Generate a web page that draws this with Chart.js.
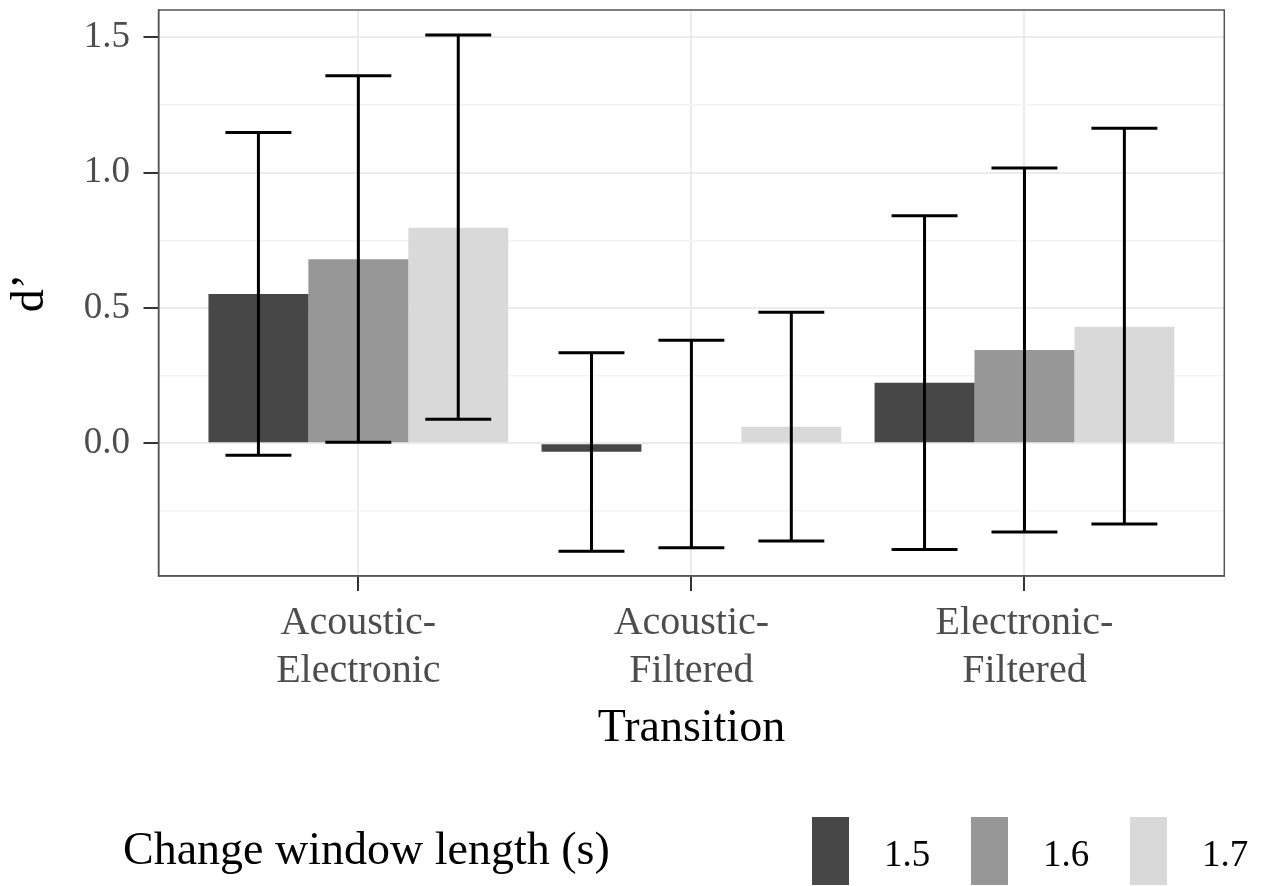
<!DOCTYPE html>
<html>
<head>
<meta charset="utf-8">
<script src="https://cdn.jsdelivr.net/npm/chart.js@4.4.1/dist/chart.umd.min.js"></script>
<style>
  html, body { margin: 0; padding: 0; background: #ffffff; }
  #wrap { width: 1264px; height: 886px; }
</style>
</head>
<body>
<div id="wrap"><canvas id="c" width="1264" height="886"></canvas></div>
<script>
// ---------- data ----------
const categories = [["Acoustic-", "Electronic"], ["Acoustic-", "Filtered"], ["Electronic-", "Filtered"]];
const categoryPositions = [1, 2, 3];
const windowLengths = ["1.5", "1.6", "1.7"];
const mean15 = [0.552, -0.031, 0.224];
const mean16 = [0.680, 0.000, 0.345];
const mean17 = [0.797, 0.061, 0.431];
const lower15 = [-0.044, -0.399, -0.392];
const upper15 = [1.148, 0.335, 0.841];
const lower16 = [0.004, -0.386, -0.327];
const upper16 = [1.358, 0.381, 1.017];
const lower17 = [0.089, -0.361, -0.298];
const upper17 = [1.509, 0.484, 1.164];
const yTicks = [-0.25, 0, 0.25, 0.5, 0.75, 1.0, 1.25, 1.5];
const yTickLabels = ["", "0.0", "", "0.5", "", "1.0", "", "1.5"];

// ---------- styles ----------
const SERIF = "'Liberation Serif', 'Times New Roman', serif";
const fills = ["#474747", "#979797", "#d9d9d9"];
const means = [mean15, mean16, mean17];
const lowers = [lower15, lower16, lower17];
const uppers = [upper15, upper16, upper17];

const datasets = windowLengths.map((lab, i) => ({
  label: lab,
  data: categoryPositions.map((x, j) => ({ x: x, y: means[i][j] })),
  backgroundColor: fills[i],
  borderWidth: 0,
  categoryPercentage: 0.9,
  barPercentage: 1.0,
  errLow: lowers[i],
  errHigh: uppers[i]
}));

const errorBarPlugin = {
  id: 'errorBars',
  afterDatasetsDraw(chart) {
    const ctx = chart.ctx;
    const yScale = chart.scales.y;
    ctx.save();
    ctx.strokeStyle = '#000000';
    ctx.lineWidth = 3;
    ctx.lineCap = 'butt';
    chart.data.datasets.forEach((ds, i) => {
      const meta = chart.getDatasetMeta(i);
      meta.data.forEach((el, j) => {
        const x = el.x;
        const half = el.width * 0.33;
        const yl = yScale.getPixelForValue(ds.errLow[j]);
        const yh = yScale.getPixelForValue(ds.errHigh[j]);
        ctx.beginPath();
        ctx.moveTo(x, yl); ctx.lineTo(x, yh);
        ctx.moveTo(x - half, yl); ctx.lineTo(x + half, yl);
        ctx.moveTo(x - half, yh); ctx.lineTo(x + half, yh);
        ctx.stroke();
      });
    });
    ctx.restore();
  }
};

const panelBorderPlugin = {
  id: 'panelBorder',
  afterDraw(chart) {
    const { ctx, chartArea: a } = chart;
    ctx.save();
    ctx.strokeStyle = '#555555';
    ctx.lineWidth = 1.5;
    ctx.strokeRect(a.left, a.top, a.right - a.left, a.bottom - a.top);
    ctx.restore();
  }
};

const legendPlugin = {
  id: 'bottomLegend',
  afterDraw(chart) {
    const ctx = chart.ctx;
    ctx.save();
    ctx.fillStyle = '#000000';
    ctx.textBaseline = 'alphabetic';
    ctx.textAlign = 'left';
    ctx.font = "46px " + SERIF;
    ctx.fillText("Change window length (s)", 123, 864);
    ctx.font = "37px " + SERIF;
    chart.data.datasets.forEach((ds, i) => {
      const kx = 812 + i * 159;
      ctx.fillStyle = ds.backgroundColor;
      ctx.fillRect(kx, 817, 37, 68);
      ctx.fillStyle = '#000000';
      ctx.fillText(ds.label, kx + 72, 866);
    });
    ctx.restore();
  }
};

const chart = new Chart(document.getElementById('c'), {
  type: 'bar',
  data: { datasets: datasets },
  options: {
    responsive: false,
    animation: false,
    devicePixelRatio: 1,
    layout: { padding: { left: 0, right: 39.7, top: 10, bottom: 110 } },
    plugins: { legend: { display: false }, tooltip: { enabled: false } },
    scales: {
      x: {
        type: 'linear',
        min: 0.4,
        max: 3.6,
        offset: false,
        afterBuildTicks: (s) => { s.ticks = categoryPositions.map(v => ({ value: v })); },
        afterFit: (s) => { s.height = 200; s.paddingLeft = 0; s.paddingRight = 0; },
        ticks: {
          callback: (v) => categories[categoryPositions.indexOf(v)],
          color: '#4d4d4d',
          font: { family: SERIF, size: 40, lineHeight: 1.2 },
          padding: 8,
          maxRotation: 0,
          autoSkip: false
        },
        grid: {
          offset: false,
          color: '#ebebeb',
          lineWidth: 2,
          drawTicks: true,
          tickLength: 15,
          tickColor: '#333333',
          tickWidth: 2
        },
        border: { display: true, color: '#555555', width: 1.5 },
        title: {
          display: true,
          text: 'Transition',
          color: '#000000',
          font: { family: SERIF, size: 46 },
          padding: { top: 0, bottom: 19 }
        }
      },
      y: {
        type: 'linear',
        min: -0.49,
        max: 1.601,
        afterBuildTicks: (s) => { s.ticks = yTicks.map(v => ({ value: v })); },
        afterFit: (s) => { s.width = 158.5; s.paddingTop = 0; s.paddingBottom = 0; },
        ticks: {
          callback: (v) => yTickLabels[yTicks.indexOf(v)],
          color: '#4d4d4d',
          font: { family: SERIF, size: 37 },
          padding: 13.5,
          autoSkip: false
        },
        grid: {
          color: (c) => (Math.abs((c.tick.value * 2) % 1) < 1e-6 ? '#ebebeb' : '#f3f3f3'),
          lineWidth: (c) => (Math.abs((c.tick.value * 2) % 1) < 1e-6 ? 2 : 1.5),
          drawTicks: true,
          tickLength: 15,
          tickColor: (c) => (Math.abs((c.tick.value * 2) % 1) < 1e-6 ? '#333333' : 'rgba(0,0,0,0)'),
          tickWidth: 2
        },
        border: { display: true, color: '#555555', width: 1.5 },
        title: {
          display: true,
          text: 'd’',
          color: '#000000',
          font: { family: SERIF, size: 46 },
          padding: { top: 3, bottom: 0 }
        }
      }
    }
  },
  plugins: [errorBarPlugin, panelBorderPlugin, legendPlugin]
});
</script>
</body>
</html>
